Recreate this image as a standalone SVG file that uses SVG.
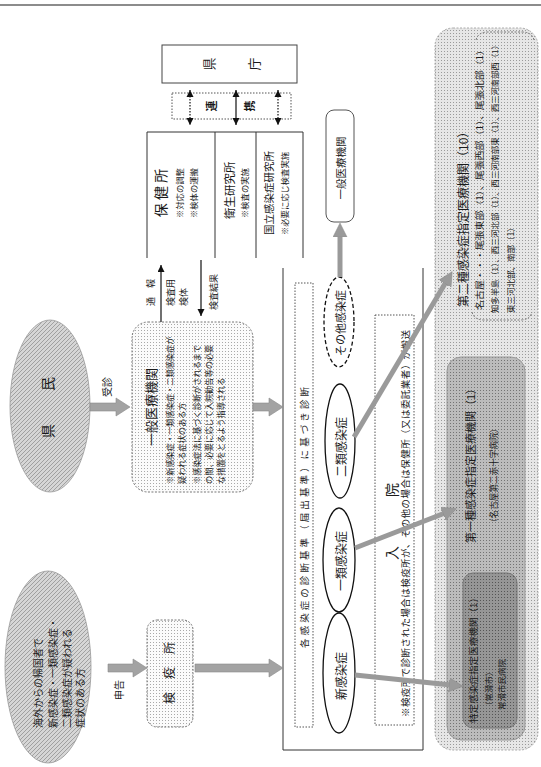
<svg xmlns="http://www.w3.org/2000/svg" width="541" height="767" viewBox="0 0 541 767">
<defs>
<style>
text{font-family:"Noto Sans CJK JP","Noto Sans CJK SC",sans-serif;fill:#1a1a1a;dominant-baseline:central}
.ln{stroke:#333;stroke-width:1;fill:none}
.el{stroke:#111;stroke-width:1.3;fill:#fff}
.ga{stroke:#9a9a9a;stroke-width:5;fill:none}
.ba{fill:#a3a3a3;stroke:#8a8a8a;stroke-width:.6}
.bk{stroke:#111;stroke-width:1.2;fill:none}
.dot{stroke:#555;stroke-width:1;stroke-dasharray:1.5 1.5;fill:none}
</style>
<pattern id="hatch" width="4" height="4" patternUnits="userSpaceOnUse"><rect width="4" height="4" fill="#d6d6d6"/><path d="M0,4 L4,0 M-1,1 L1,-1 M3,5 L5,3" stroke="#9a9a9a" stroke-width=".9"/></pattern>
<pattern id="dots" width="3" height="3" patternUnits="userSpaceOnUse"><rect width="3" height="3" fill="#fbfbfb"/><rect width="1" height="1" fill="#a8a8a8"/></pattern>
<pattern id="dots2" width="3" height="3" patternUnits="userSpaceOnUse"><rect width="3" height="3" fill="#e6e6e6"/><rect width="1" height="1" fill="#9a9a9a"/></pattern>
<pattern id="dots3" width="3" height="3" patternUnits="userSpaceOnUse"><rect width="3" height="3" fill="#bcbcbc"/><rect width="1" height="1" fill="#747474"/></pattern>
<pattern id="dots4" width="3" height="3" patternUnits="userSpaceOnUse"><rect width="3" height="3" fill="#969696"/><rect width="1" height="1" fill="#555"/></pattern>
<marker id="gah" markerUnits="userSpaceOnUse" markerWidth="16" markerHeight="16" refX="2" refY="7" orient="auto"><path d="M0,0 L14,7 L0,14 z" fill="#9a9a9a" stroke="#888" stroke-width=".5"/></marker>
<marker id="bah" markerUnits="userSpaceOnUse" markerWidth="8" markerHeight="8" refX="7" refY="3.5" orient="auto"><path d="M0,0 L7,3.5 L0,7 z" fill="#111"/></marker>
<marker id="bat" markerUnits="userSpaceOnUse" markerWidth="8" markerHeight="8" refX="0" refY="3.5" orient="auto"><path d="M7,0 L0,3.5 L7,7 z" fill="#111"/></marker>
</defs>
<rect width="541" height="767" fill="#fff"/>
<line x1="0" y1="5" x2="541" y2="5" stroke="#666" stroke-width="1.5"/>

<!-- 県民 -->
<g id="kenmin">
<ellipse cx="50" cy="406" rx="40" ry="86" fill="url(#hatch)" stroke="#999" stroke-width=".8"/>
<text transform="translate(47,431) rotate(-90)" text-anchor="middle" font-size="14">県</text>
<text transform="translate(47,384) rotate(-90)" text-anchor="middle" font-size="14">民</text>
</g>
<text transform="translate(106,387) rotate(-90)" text-anchor="middle" font-size="10">受診</text>

<!-- 海外からの帰国者 -->
<g id="kikokusha">
<ellipse cx="48" cy="667" rx="43" ry="96" fill="url(#hatch)" stroke="#999" stroke-width=".8"/>
<text transform="translate(37,728) rotate(-90)" font-size="10">海外からの帰国者で</text>
<text transform="translate(52,728) rotate(-90)" font-size="10">新感染症・一類感染症・</text>
<text transform="translate(66,728) rotate(-90)" font-size="10">二類感染症が疑われる</text>
<text transform="translate(79,728) rotate(-90)" font-size="10">症状のある方</text>
</g>
<text transform="translate(118,690) rotate(-90)" text-anchor="middle" font-size="10">申告</text>

<!-- 検疫所 -->
<g id="kenekisho">
<rect x="147" y="620" width="46" height="107" rx="10" fill="url(#dots)" stroke="#777" stroke-dasharray="2 1.5"/>
<text transform="translate(168,698) rotate(-90)" text-anchor="middle" font-size="12">検</text>
<text transform="translate(168,673) rotate(-90)" text-anchor="middle" font-size="12">疫</text>
<text transform="translate(168,648) rotate(-90)" text-anchor="middle" font-size="12">所</text>
</g>

<!-- 一般医療機関 (left) -->
<g id="ippan1">
<rect x="132" y="322" width="121" height="170" rx="16" fill="url(#dots)" stroke="#777" stroke-dasharray="2 1.5"/>
<text transform="translate(150,407) rotate(-90)" text-anchor="middle" font-size="13">一般医療機関</text>
<text transform="translate(169,484) rotate(-90)" font-size="8.2">※新感染症・一類感染症・二類感染症が</text>
<text transform="translate(181,484) rotate(-90)" font-size="8.2">疑われる症状のある方</text>
<text transform="translate(196,484) rotate(-90)" font-size="8.2">※感染症法に基づく診断がされるまで</text>
<text transform="translate(208,484) rotate(-90)" font-size="8.2">の間、必要に応じて入院勧告等の必要</text>
<text transform="translate(220,484) rotate(-90)" font-size="8.2">な措置をとるよう指導される</text>
</g>

<!-- 県庁 -->
<g id="kencho">
<rect x="162" y="45" width="135" height="38" fill="#fff" stroke="#444"/>
<text transform="translate(208,64) rotate(-90)" text-anchor="middle" font-size="13">県</text>
<text transform="translate(253,64) rotate(-90)" text-anchor="middle" font-size="13">庁</text>
</g>

<!-- 連携 -->
<g id="renkei">
<rect x="172" y="93" width="119" height="26" class="dot"/>
<text transform="translate(211,106) rotate(-90)" text-anchor="middle" font-size="11" font-weight="bold">連</text>
<text transform="translate(249,106) rotate(-90)" text-anchor="middle" font-size="11" font-weight="bold">携</text>
</g>

<!-- 保健所 etc -->
<g id="hokenjo">
<path class="ln" d="M147,258 V132 H303 V258 M215,132 V258 M256,132 V258"/>
<text transform="translate(160,193) rotate(-90)" text-anchor="middle" font-size="14">保 健 所</text>
<text transform="translate(179,218) rotate(-90)" font-size="8.3">※対応の調整</text>
<text transform="translate(193,218) rotate(-90)" font-size="8.3">※検体の運搬</text>
<text transform="translate(229,219) rotate(-90)" font-size="11.5">衛生研究所</text>
<text transform="translate(244,218) rotate(-90)" font-size="8.3">※検査の実施</text>
<text transform="translate(268,235) rotate(-90)" font-size="10.5">国立感染症研究所</text>
<text transform="translate(284,235) rotate(-90)" font-size="8.3">※必要に応じ検査実施</text>
</g>

<!-- 一般医療機関 (right) -->
<g id="ippan2">
<rect x="326" y="110" width="28" height="112" rx="8" fill="#fff" stroke="#555"/>
<text transform="translate(340,168) rotate(-90)" text-anchor="middle" font-size="10.5">一般医療機関</text>
</g>

<!-- main box -->
<g id="shindan">
<path class="ln" d="M283,268 V750 H423 V268"/>
<rect x="295" y="283" width="18" height="444" class="dot"/>
<text transform="translate(304,648) rotate(-90)" font-size="9.5" textLength="261" lengthAdjust="spacing">各感染症の診断基準（届出基準）に基づき診断</text>
</g>
<g id="shin"><ellipse class="el" cx="339" cy="673" rx="16" ry="60"/><text transform="translate(340,676) rotate(-90)" text-anchor="middle" font-size="12">新感染症</text></g>
<g id="ichirui"><ellipse class="el" cx="339" cy="560" rx="16" ry="52"/><text transform="translate(340,561) rotate(-90)" text-anchor="middle" font-size="12">一類感染症</text></g>
<g id="nirui"><ellipse class="el" cx="340" cy="441" rx="15" ry="57"/><text transform="translate(340,447) rotate(-90)" text-anchor="middle" font-size="12">二類感染症</text></g>
<g id="sonota"><ellipse class="el" cx="339" cy="322" rx="15" ry="45" stroke-dasharray="4 2.5" stroke-width="1"/><text transform="translate(340,323) rotate(-90)" text-anchor="middle" font-size="11">その他感染症</text></g>
<g id="nyuin">
<rect x="375" y="315" width="39" height="410" class="dot"/>
<text transform="translate(391,553) rotate(-90)" text-anchor="middle" font-size="14">入</text>
<text transform="translate(391,490) rotate(-90)" text-anchor="middle" font-size="14">院</text>
<text transform="translate(405,717) rotate(-90)" font-size="9.5" textLength="387" lengthAdjust="spacing">※検疫所で診断された場合は検疫所が、その他の場合は保健所（又は委託業者）が搬送</text>
</g>

<!-- right panel -->
<g id="dai2">
<rect x="435" y="28" width="103" height="722" rx="18" fill="url(#dots2)" stroke="#aaa" stroke-dasharray="2 1.5"/>
<text transform="translate(462,307) rotate(-90)" font-size="12">第二種感染症指定医療機関（10）</text>
<path d="M472,312 Q474,320 484,320 H520 Q530,320 532,312 M476,40 Q478,32 488,32 H522 Q532,32 534,40" fill="none" stroke="#777" stroke-dasharray="2 1.5"/>
<text transform="translate(479,310) rotate(-90)" font-size="8.8" textLength="265" lengthAdjust="spacingAndGlyphs">名古屋・・・尾張東部（1）、尾張西部（1）、尾張北部（1）</text>
<text transform="translate(494,313) rotate(-90)" font-size="8" textLength="272" lengthAdjust="spacingAndGlyphs">知多半島（1）、西三河北部（1）、西三河南部東（1）、西三河南部西（1）</text>
<text transform="translate(510,313) rotate(-90)" font-size="8.5">東三河北部、南部（1）</text>
</g>
<g id="dai1">
<rect x="447" y="357" width="78" height="383" rx="14" fill="url(#dots3)" stroke="#999"/>
<text transform="translate(470,543) rotate(-90)" font-size="11">第一種感染症指定医療機関（1）</text>
<text transform="translate(493,527) rotate(-90)" font-size="8.6">（名古屋第二赤十字病院）</text>
</g>
<g id="tokutei">
<rect x="463" y="573" width="54" height="155" rx="10" fill="url(#dots4)" stroke="#777"/>
<text transform="translate(473,723) rotate(-90)" font-size="9.6">特定感染症指定医療機関（1）</text>
<text transform="translate(488,710) rotate(-90)" font-size="8.5">（常滑市）</text>
<text transform="translate(501,710) rotate(-90)" font-size="8.5">常滑市民病院</text>
</g>

<!-- connectors -->
<g id="connectors">
<polygon class="ba" points="90,403 116,403 116,398 130,407 116,416 116,411 90,411"/>
<polygon class="ba" points="253,403 269,403 269,398 283,407 269,416 269,411 253,411"/>
<polygon class="ba" points="108,664 133,664 133,659 147,668 133,677 133,672 108,672"/>
<polygon class="ba" points="195,664 269,664 269,659 283,668 269,677 269,672 195,672"/>
<line class="ga" x1="340" y1="277" x2="340" y2="235" marker-end="url(#gah)"/>
<line class="ga" x1="354" y1="437" x2="446" y2="282" marker-end="url(#gah)"/>
<line class="ga" x1="355" y1="548" x2="445" y2="513" marker-end="url(#gah)"/>
<line class="ga" x1="355" y1="675" x2="451" y2="685" marker-end="url(#gah)"/>
<line class="bk" x1="190" y1="90" x2="190" y2="125" stroke-dasharray="1.5 1.5" marker-start="url(#bat)" marker-end="url(#bah)"/>
<line class="bk" x1="236" y1="90" x2="236" y2="125" marker-start="url(#bat)" marker-end="url(#bah)"/>
<line class="bk" x1="278" y1="90" x2="278" y2="125" stroke-dasharray="1.5 1.5" marker-start="url(#bat)" marker-end="url(#bah)"/>
<line class="bk" x1="161" y1="322" x2="161" y2="265" marker-end="url(#bah)"/>
<line class="bk" x1="201" y1="260" x2="201" y2="316" marker-end="url(#bah)"/>
</g>
<text transform="translate(150,306) rotate(-90)" font-size="9">通　報</text>
<text transform="translate(170,306) rotate(-90)" font-size="9">検査用</text>
<text transform="translate(183,306) rotate(-90)" font-size="9">検体</text>
<text transform="translate(213,310) rotate(-90)" font-size="9">検査結果</text>
</svg>
